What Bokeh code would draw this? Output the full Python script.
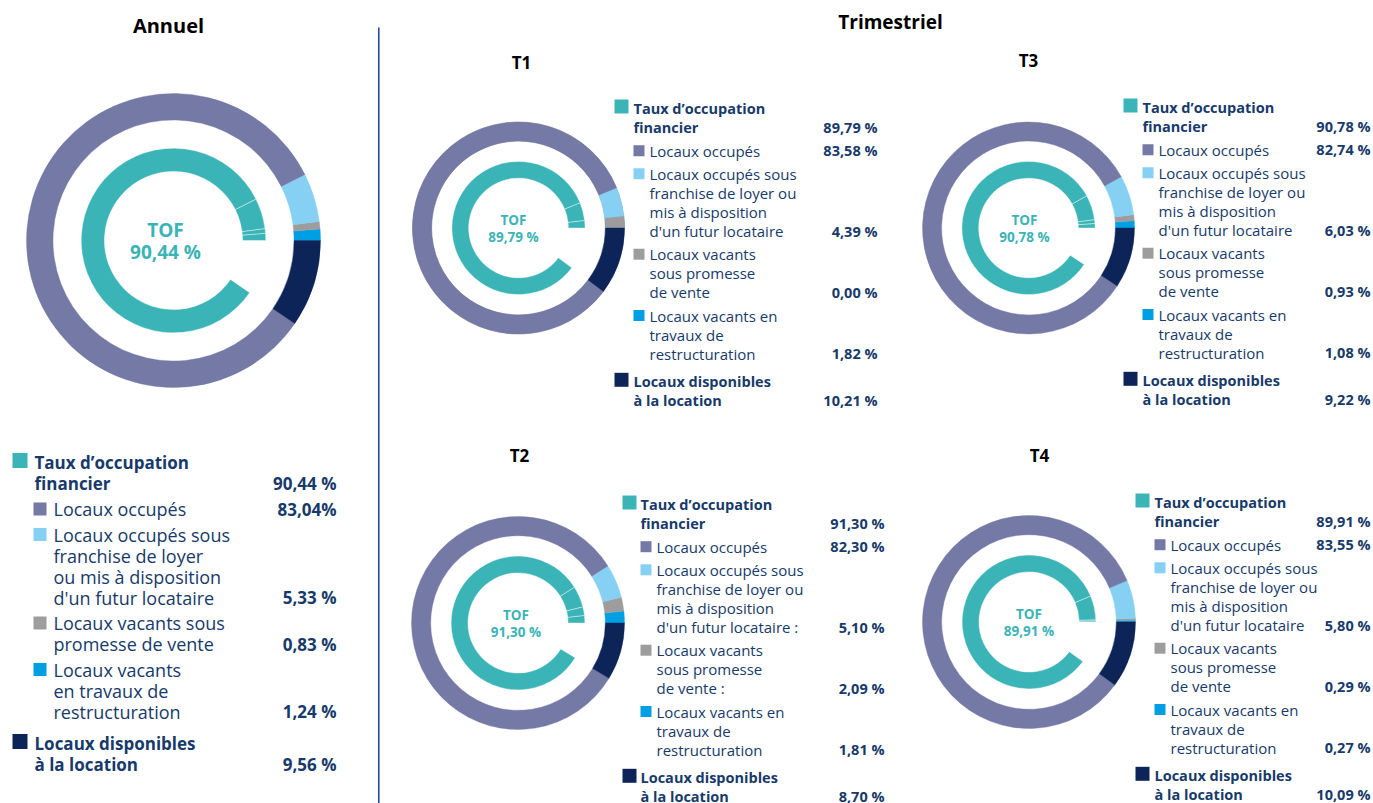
from bokeh.plotting import figure
from bokeh.models import Range1d
from bokeh.core.properties import value
from bokeh.embed import file_html
from bokeh.resources import INLINE

# ---------------- data ----------------
periods = ["Annuel", "T1", "T2", "T3", "T4"]
tof = [90.44, 89.79, 91.30, 90.78, 89.91]
occupes = [83.04, 83.58, 82.30, 82.74, 83.55]
franchise = [5.33, 4.39, 5.10, 6.03, 5.80]
promesse = [0.83, 0.00, 2.09, 0.93, 0.29]
travaux = [1.24, 1.82, 1.81, 1.08, 0.27]
disponibles = [9.56, 10.21, 8.70, 9.22, 10.09]

header_lines = ["Taux d’occupation", "financier"]
occ_lines = ["Locaux occupés"]
fr_lines_annual = ["Locaux occupés sous", "franchise de loyer", "ou mis à disposition", "d'un futur locataire"]
fr_lines_q = ["Locaux occupés sous", "franchise de loyer ou", "mis à disposition", "d'un futur locataire"]
pr_lines_annual = ["Locaux vacants sous", "promesse de vente"]
pr_lines_q = ["Locaux vacants", "sous promesse", "de vente"]
tr_lines_annual = ["Locaux vacants", "en travaux de", "restructuration"]
tr_lines_q = ["Locaux vacants en", "travaux de", "restructuration"]
di_lines = ["Locaux disponibles", "à la location"]

# ---------------- style ----------------
C_OCC = "#7479a5"
C_FR = "#86d0f3"
C_PR = "#9d9d9d"
C_TR = "#009fe3"
C_DI = "#0c2457"
C_TOF = "#3ab4b6"
TXT = "#173a6a"
FONT = value("Open Sans")

W, H = 1373, 803


def Y(py):
    return H - py


p = figure(width=W, height=H, output_backend="svg", toolbar_location=None,
           x_range=Range1d(0, W), y_range=Range1d(0, H),
           x_axis_location=None, y_axis_location=None, min_border=0)
p.grid.visible = False
p.outline_line_color = None
p.background_fill_color = "white"
p.border_fill_color = "white"


def fmt(v, space=True):
    s = f"{v:.2f}".replace(".", ",")
    return s + (" %" if space else "%")


def txt(x, y, s, size, color=TXT, bold=False, align="left"):
    p.text(x=[x], y=[Y(y)], text=[s], text_font=FONT, text_font_size=f"{size}px",
           text_font_style="bold" if bold else "normal", text_color=color,
           text_align=align, text_baseline="middle")


def square(x0, yc, s, color):
    p.quad(left=[x0], right=[x0 + s], top=[Y(yc - s / 2)], bottom=[Y(yc + s / 2)],
           fill_color=color, line_color=None)


def donut(i, cx, cy, R, tof_size, tof_dy, tof_dx):
    segs = [(travaux[i], C_TR), (promesse[i], C_PR), (franchise[i], C_FR),
            (occupes[i], C_OCC), (disponibles[i], C_DI)]
    a = 0.0
    r_in = R * 0.82
    t_out = R * 0.628
    t_in = R * 0.47
    for k, (v, c) in enumerate(segs):
        b = a + v * 3.6
        p.annular_wedge(x=[cx], y=[Y(cy)], inner_radius=r_in, outer_radius=R,
                        start_angle=a, end_angle=b, start_angle_units="deg",
                        end_angle_units="deg", fill_color=c, line_color=c, line_width=0.4)
        if k < 4 and v > 0:
            p.annular_wedge(x=[cx], y=[Y(cy)], inner_radius=t_in, outer_radius=t_out,
                            start_angle=a, end_angle=b, start_angle_units="deg",
                            end_angle_units="deg", fill_color=C_TOF, line_color="white",
                            line_width=0.4)
        a = b
    txt(cx + tof_dx, cy - tof_dy, "TOF", tof_size, C_TOF, True, "center")
    txt(cx + tof_dx, cy + tof_dy, fmt(tof[i]), tof_size, C_TOF, True, "center")


def legend(i, y0, lh, gap, ngap, sq_x, sq_s, tx, ssq_x, ssq_s, stx, vx, fs, fsb,
           fr_lines, pr_lines, tr_lines, occ_space=True):
    y = y0
    square(sq_x, y - 2, sq_s, C_TOF)
    txt(tx, y, header_lines[0], fsb, bold=True)
    y += lh
    txt(tx, y, header_lines[1], fsb, bold=True)
    txt(vx, y, fmt(tof[i]), fsb, bold=True, align="right")
    blocks = [(occ_lines, occupes[i], C_OCC, occ_space), (fr_lines, franchise[i], C_FR, True),
              (pr_lines, promesse[i], C_PR, True), (tr_lines, travaux[i], C_TR, True)]
    for lines, v, c, sp in blocks:
        y += lh + gap
        square(ssq_x, y, ssq_s, c)
        for j, s in enumerate(lines):
            if j > 0:
                y += lh
            txt(stx, y, s, fs)
        txt(vx, y, fmt(v, sp), fsb, bold=True, align="right")
    y += lh + ngap
    square(sq_x, y - 2, sq_s, C_DI)
    txt(tx, y, di_lines[0], fsb, bold=True)
    y += lh
    txt(tx, y, di_lines[1], fsb, bold=True)
    txt(vx, y, fmt(disponibles[i]), fsb, bold=True, align="right")


# titles
txt(168, 25, "Annuel", 20, "#000000", True, "center")
txt(890, 21, "Trimestriel", 19, "#000000", True, "center")
for lbl, x, y in [("T1", 521, 62), ("T3", 1028, 60), ("T2", 519, 455), ("T4", 1039, 455)]:
    txt(x, y, lbl, 17, "#000000", True, "center")

# separator
p.segment(x0=[378.3], y0=[Y(27)], x1=[378.3], y1=[Y(803)], line_color="#1e3f8f", line_width=1.5)

# annual
donut(0, 173, 240, 147, 19, 11, -8)
legend(0, 462, 21, 4.5, 11, 12, 15, 34, 33, 13, 53, 336, 18, 17,
       fr_lines_annual, pr_lines_annual, tr_lines_annual, occ_space=False)

# quarters
LH, GAP, NGAP = 19.1, 4.0, 9.0
donut(1, 518, 227.5, 106, 13.5, 8.5, -5)
legend(1, 108, LH, GAP, NGAP, 614, 14, 633, 633, 11, 649, 877, 15, 14.5,
       fr_lines_q, pr_lines_q, tr_lines_q)

donut(3, 1028, 227.5, 106, 13.5, 8.5, -4)
legend(3, 107, LH, GAP, NGAP, 1123, 14, 1142, 1142, 11, 1158, 1370, 15, 14.5,
       fr_lines_q, pr_lines_q, tr_lines_q)

fr_t2 = fr_lines_q[:3] + [fr_lines_q[3] + " :"]
pr_t2 = pr_lines_q[:2] + [pr_lines_q[2] + " :"]
donut(2, 517.5, 622.5, 106.5, 13.5, 8.5, -2)
legend(2, 504, LH, GAP, NGAP, 622, 14, 640, 640, 11, 656, 884, 15, 14.5,
       fr_t2, pr_t2, tr_lines_q)

donut(4, 1028.5, 621.5, 106.5, 13.5, 8.5, 0)
legend(4, 502, LH, GAP, NGAP, 1135, 14, 1154, 1154, 11, 1170, 1370, 15, 14.5,
       fr_lines_q, pr_lines_q, tr_lines_q)

open("out.html", "w").write(file_html(p, INLINE))
